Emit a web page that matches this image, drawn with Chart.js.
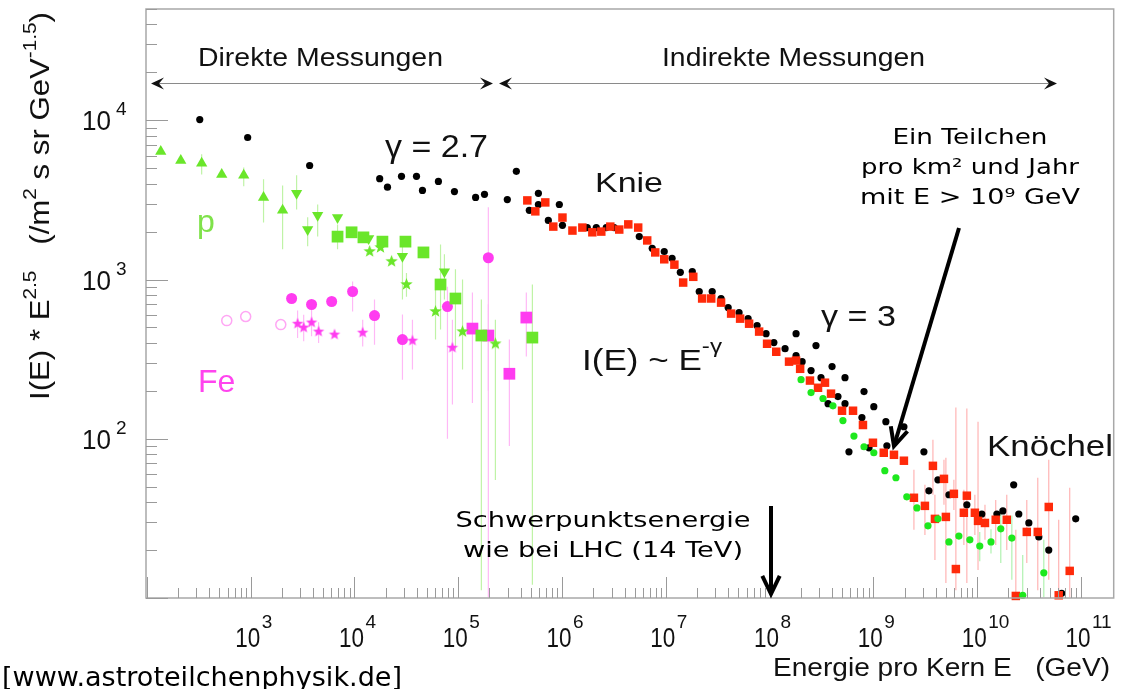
<!DOCTYPE html>
<html><head><meta charset="utf-8">
<script src="https://cdn.jsdelivr.net/npm/chart.js@4/dist/chart.umd.min.js"></script>
<style>html,body{margin:0;padding:0;background:#fff;overflow:hidden}#wrap{width:1122px;height:689px}</style>
</head><body><div id="wrap"><canvas id="c" width="1122" height="689"></canvas></div>
<script>
// ---------------- DATA (energy in GeV, intensity I(E)*E^2.5) ----------------
const xTickExponents = [3,4,5,6,7,8,9,10,11];
const yTickExponents = [2,3,4];
const X_MIN = 98, X_MAX = 2.07e11, Y_MIN = 10, Y_MAX = 5.0e4;

// all-particle spectrum, black dots
const blackDots = [[323,10100],[935,7800],[3700,5200],[17500,4300],[20800,3800],[28400,4450],[39600,4450],[45200,3630],[64400,4130],[91900,3570],[147000,3280],[179000,3430],[297000,3180],[363000,4780],
[592000,3480],[484000,2720],[592000,2960],[738000,2350],[942000,2960],[1.01e6,2190],[1.75e6,2120],[2.14e6,2120],[2.67e6,2120],[3.18e6,2120],[5.55e6,1860],[7.40e6,1570],[9.66e6,1500],[1.15e7,1360],[1.38e7,1110],[1.80e7,1120],[2.10e7,841],[2.80e7,841],[3.41e7,760],[3.99e7,667],[5.08e7,619],[6.21e7,568],[7.58e7,514],[9.25e7,457],[1.10e8,402],[1.41e8,368],[1.80e8,457],[1.80e8,333],[2.06e8,305],[2.51e8,268],[2.80e8,385],[3.13e8,242],[4.00e8,284],[3.66e8,166],[4.56e8,184],[5.33e8,242],[5.33e8,166],[7.76e8,136],[8.13e8,198],[1.01e9,159],[9.08e8,87.7],[1.32e9,128],[1.35e9,90.4],[1.97e9,119],[5.82e8,82.8],[3.07e9,82.8],[4.19e9,55.2],[3.43e9,47.1],[5.35e9,44.5],[7.96e9,38.5],[1.11e10,33.7],[1.55e10,33.7],[1.77e10,35.2],[2.25e10,51.4],[2.52e10,33.7],[3.15e10,29.6],[3.93e10,24.2],[4.90e10,20.0],[6.53e10,10.7],[8.91e10,31.4]];

// all-particle spectrum, red squares
const redSquares = [[463000,3140],[553000,2680],[690000,3050],[824000,2150],[1.01e6,2450],[1.26e6,2030],[1.57e6,2120],[1.96e6,1980],[2.39e6,2000],[2.92e6,2150],[3.56e6,2060],[4.35e6,2220],[5.42e6,2120],[6.62e6,1760],[7.91e6,1480],[9.66e6,1340],[1.21e7,1240],[1.47e7,957],[1.84e7,1040],[2.24e7,760],[2.74e7,760],[3.41e7,716],[4.26e7,611],[5.20e7,568],[6.35e7,528],[7.93e7,471],[9.46e7,395],[1.16e8,352],[1.54e8,305],[1.80e8,310],[1.97e8,275],[2.45e8,232],[2.93e8,209],[3.42e8,225],[3.91e8,192],[4.99e8,150],[6.37e8,150],[7.94e8,122],[9.91e8,94.4],[1.26e9,81.7],[1.58e9,79.3],[1.97e9,72.8],[2.46e9,42.6],[3.14e9,37.9],[3.75e9,67.6],[4.79e9,56.0],[3.92e9,31.4],[5.00e9,32.3],[5.97e9,45.1],[6.24e9,15.2],[7.45e9,34.3],[7.96e9,43.9],[9.51e9,34.3],[1.02e10,30.5],[1.19e10,29.6],[1.51e10,31.0],[1.93e10,31.0],[2.36e10,10.3],[3.01e10,26.0],[3.84e10,26.0],[4.90e10,37.3],[6.11e10,10.4],[7.80e10,14.8]];
const redErr = [[2.46e9,26.8,63.8],[3.14e9,24.9,51.4],[3.75e9,44.5,98.6],[4.79e9,38.5,73.8],[3.92e9,17.3,44.5],[5.00e9,12.4,76.0],[5.97e9,35.7,55.2],[6.24e9,11.2,157],[7.45e9,21.5,47.8],[7.96e9,12.4,155],[9.51e9,24.9,44.5],[1.02e10,15.0,128],[1.19e10,23.2,38.5],[1.51e10,21.5,41.3],[1.93e10,20.0,44.5],[2.36e10,10.1,26.8],[3.01e10,16.6,41.3],[3.84e10,11.2,56.9],[4.90e10,13.0,73.8],[6.11e10,10.1,31.0],[7.80e10,10.1,49.2]];

// all-particle spectrum, green dots (highest energies)
const greenDots = [[2.01e8,235],[2.51e8,195],[3.27e8,179],[4.08e8,161],[5.09e8,130],[6.50e8,104],[8.13e8,89.1],[1.01e9,81.7],[1.29e9,63.0],[1.65e9,56.9],[2.10e9,43.2],[2.63e9,36.8],[3.36e9,28.4],[4.19e9,31.4],[5.35e9,22.5],[6.67e9,24.5],[8.51e9,23.2],[1.06e10,21.2],[1.36e10,22.5],[1.69e10,27.2],[2.16e10,23.8],[2.75e10,10.4],[4.39e10,14.4]];
const greenDotErr = [[1.06e10,17,26],[1.36e10,19,27],[1.69e10,16.6,35.7],[2.16e10,13,33],[2.75e10,10.1,18.6],[4.39e10,10.1,23.2]];

// protons (direct measurements)
const pTriUp = [[136,6380],[212,5600],[337,5370],[526,4570],[857,4510],[1330,3280],[2030,2720]];
const pTriUpErr = [[337,4570,6110],[857,3850,5060],[1330,2280,4260],[2030,1550,3900]];
const pTriDown = [[2770,3480],[3540,2060],[4420,2530],[6870,2450],[13700,1810],[29000,1400],[73600,1120]];
const pTriDownErr = [[2770,2750,4510],[3540,1620,2460],[4420,1860,2960],[29000,748,1660],[73600,748,1440]];
const pSquares = [[6870,1860],[9380,1980],[12200,1840],[18600,1730],[31000,1730],[46200,1480],[67500,931],[94000,760],[167000,445],[518000,432]];
const pSquaresErr = [[6870,1550,2220],[67500,485,1660],[94000,363,1160],[167000,11.2,748],[518000,12.1,931]];
const pStars = [[14000,1500],[17800,1590],[22800,1300],[31700,931],[60400,630],[110000,471],[228000,395]];
const pStarsErr = [[31700,780,1100],[60400,420,865],[110000,272,1000],[228000,55,560]];

// iron (direct measurements)
const feCircles = [[2480,760],[3860,697],[6030,728],[9590,841],[15600,594],[29000,420],[78700,676],[195000,1370]];
const feCirclesErr = [[9590,630,971],[15600,390,748],[29000,235,603],[78700,100,900],[195000,10.1,2840]];
const feOpen = [[588,552],[895,585],[1950,521]];
const feStars = [[2830,528],[3240,499],[3860,537],[4510,471],[6430,451],[12000,464],[36200,413],[87900,373]];
const feStarsErr = [[2830,430,640],[3240,410,600],[3860,440,650],[4510,400,540],[12000,380,560],[36200,272,560],[87900,164,560]];
const feSquares = [[137000,492],[195000,445],[311000,256],[453000,577]];
const feSquaresErr = [[137000,168,828],[195000,200,700],[311000,90,420],[453000,328,828]];

// ---------------- helpers ----------------
const pts = a => a.map(([x,y]) => ({x, y}));
const bars = a => { const o = []; a.forEach(([x,lo,hi]) => { o.push({x, y:lo}, {x, y:hi}, {x, y:null}); }); return o; };
function starCanvas(color, r) {
  const s = Math.ceil(2*r + 2), c = document.createElement('canvas');
  c.width = s; c.height = s;
  const g = c.getContext('2d'); g.fillStyle = color; g.beginPath();
  for (let i = 0; i < 10; i++) {
    const a = -Math.PI/2 + i*Math.PI/5, rr = (i % 2) ? r*0.42 : r;
    g.lineTo(s/2 + rr*Math.cos(a), s/2 + rr*Math.sin(a));
  }
  g.closePath(); g.fill(); return c;
}
const GREEN = '#6ae62a', GREEN_E = '#bff3a6', MAG = '#ff3cf0', MAG_E = '#ffb8f6', RED = '#ff2a0a', RED_E = '#ffb4b4', GDOT = '#1ee81e', GDOT_E = '#b0f2b0';

function errSet(data, color) {
  return {type:'line', data: bars(data), borderColor: color, borderWidth: 1.2, pointRadius: 0, spanGaps: false, order: 10, clip: 4};
}
function mk(data, style, color, r, extra) {
  return Object.assign({type:'scatter', data: pts(data), pointStyle: style, backgroundColor: color, borderColor: color, borderWidth: 0, pointRadius: r, pointHoverRadius: r, order: 1, clip: 10}, extra || {});
}

// ---------------- text helper ----------------
function rich(ctx, parts, x, y, o) {
  const fam = o.family || '"Liberation Sans", Arial, sans-serif';
  const sup = o.supSize || Math.round(o.size*0.65), rise = o.rise || Math.round(o.size*0.45);
  const w = parts.map(p => { ctx.font = (p[1] ? sup : o.size) + 'px ' + fam; return ctx.measureText(p[0]).width; });
  const nat = w.reduce((a,b) => a+b, 0);
  const sx = o.width ? o.width/nat : 1, tot = nat*sx;
  const start = o.align === 'center' ? -tot/2 : (o.align === 'right' ? -tot : 0);
  ctx.save(); ctx.translate(x, y); if (o.rotate) ctx.rotate(o.rotate);
  ctx.translate(start, 0); ctx.scale(sx, 1);
  ctx.fillStyle = o.color || '#111'; ctx.textAlign = 'left'; ctx.textBaseline = 'alphabetic';
  let cx = 0;
  parts.forEach((p, i) => { ctx.font = (p[1] ? sup : o.size) + 'px ' + fam; ctx.fillText(p[0], cx, p[1] ? -rise : 0); cx += w[i]; });
  ctx.restore();
}
function stealth(ctx, tx, ty, dir) { // dir: +1 right, -1 left
  ctx.beginPath();
  ctx.moveTo(tx, ty); ctx.lineTo(tx - dir*13, ty - 6); ctx.lineTo(tx - dir*8, ty); ctx.lineTo(tx - dir*13, ty + 6);
  ctx.closePath(); ctx.fill();
}
function bigArrow(ctx, x0, y0, x1, y1) {
  ctx.save(); ctx.strokeStyle = '#000'; ctx.lineWidth = 4; ctx.lineCap = 'butt';
  ctx.beginPath(); ctx.moveTo(x0, y0); ctx.lineTo(x1, y1); ctx.stroke();
  const a = Math.atan2(y1 - y0, x1 - x0), L = 20, s = 0.45;
  ctx.beginPath();
  ctx.moveTo(x1 - L*Math.cos(a - s), y1 - L*Math.sin(a - s)); ctx.lineTo(x1, y1);
  ctx.lineTo(x1 - L*Math.cos(a + s), y1 - L*Math.sin(a + s));
  ctx.lineJoin = 'miter'; ctx.stroke(); ctx.restore();
}

const COMIC = '"Comic Sans MS", "DejaVu Sans", sans-serif';

const decor = {
  id: 'decor',
  afterDatasetsDraw(chart) {
    const ctx = chart.ctx, a = chart.chartArea, xs = chart.scales.x, ys = chart.scales.y;
    ctx.save();
    // frame
    ctx.strokeStyle = '#a8a8a8'; ctx.lineWidth = 1.5;
    ctx.strokeRect(a.left, a.top, a.right - a.left, a.bottom - a.top);
    // ticks
    ctx.strokeStyle = '#9a9a9a'; ctx.lineWidth = 1;
    for (let e = 1; e <= 4; e++) for (let m = 1; m <= 9; m++) {
      const v = m*Math.pow(10, e); if (v < Y_MIN || v > Y_MAX) continue;
      const py = Math.round(ys.getPixelForValue(v)) + 0.5, len = m === 1 ? 22 : 11;
      ctx.beginPath(); ctx.moveTo(a.left, py); ctx.lineTo(a.left + len, py); ctx.stroke();
    }
    for (let e = 1; e <= 11; e++) for (let m = 1; m <= 9; m++) {
      const v = m*Math.pow(10, e); if (v < X_MIN || v > 1.01e11) continue;
      const px = Math.round(xs.getPixelForValue(v)) + 0.5, len = m === 1 ? 21 : 10;
      ctx.beginPath(); ctx.moveTo(px, a.bottom); ctx.lineTo(px, a.bottom - len); ctx.stroke();
    }
    // tick labels
    ctx.fillStyle = '#111';
    xTickExponents.forEach(n => {
      const px = xs.getPixelForValue(Math.pow(10, n));
      rich(ctx, [['10', 0]], px - 3, 647, {size: 28, align: 'center', width: 25});
      rich(ctx, [[String(n), 0]], px + 11, 628, {size: 19, align: 'left'});
    });
    yTickExponents.forEach(n => {
      const py = ys.getPixelForValue(Math.pow(10, n));
      rich(ctx, [['10', 0]], 111, py + 10, {size: 28, align: 'right', width: 29});
      rich(ctx, [[String(n), 0]], 116, py - 5, {size: 19, align: 'left'});
    });
    // axis titles
    rich(ctx, [['Energie pro Kern E   (GeV)', 0]], 773, 676, {size: 25, width: 337});
    rich(ctx, [['I(E) * E', 0], ['2.5', 1], ['   (/m', 0], ['2', 1], [' s sr GeV', 0], ['-1.5', 1], [')', 0]], 49, 400,
      {size: 27, supSize: 18, rise: 13, width: 388, rotate: -Math.PI/2});
    // region arrows
    ctx.strokeStyle = '#8a8a8a'; ctx.lineWidth = 1.2;
    ctx.beginPath(); ctx.moveTo(152, 83.5); ctx.lineTo(492, 83.5); ctx.moveTo(500, 83.5); ctx.lineTo(1056, 83.5); ctx.stroke();
    ctx.fillStyle = '#111';
    stealth(ctx, 151, 83.5, -1); stealth(ctx, 493, 83.5, 1); stealth(ctx, 499, 83.5, -1); stealth(ctx, 1057, 83.5, 1);
    rich(ctx, [['Direkte Messungen', 0]], 198, 66, {size: 25, width: 245});
    rich(ctx, [['Indirekte Messungen', 0]], 662, 66, {size: 25, width: 263});
    // physics labels
    rich(ctx, [['\u03b3 = 2.7', 0]], 385, 157, {size: 31, width: 103});
    rich(ctx, [['Knie', 0]], 595, 192, {size: 28, width: 68});
    rich(ctx, [['I(E) ~ E', 0], ['-\u03b3', 1]], 582, 370, {size: 29, supSize: 20, rise: 17, width: 140});
    rich(ctx, [['\u03b3 = 3', 0]], 821, 326, {size: 30, width: 75});
    rich(ctx, [['Kn\u00f6chel', 0]], 987, 456, {size: 30, width: 126});
    rich(ctx, [['p', 0]], 197, 232, {size: 32, color: '#7fe24a'});
    rich(ctx, [['Fe', 0]], 198, 392, {size: 32, color: '#ff44ee'});
    // comic annotations
    rich(ctx, [['Ein Teilchen', 0]], 970, 144, {size: 22, family: COMIC, align: 'center', width: 155, color: '#000'});
    rich(ctx, [['pro km\u00b2 und Jahr', 0]], 970, 174, {size: 22, family: COMIC, align: 'center', width: 218, color: '#000'});
    rich(ctx, [['mit E > 10\u2079 GeV', 0]], 970, 204, {size: 22, family: COMIC, align: 'center', width: 220, color: '#000'});
    bigArrow(ctx, 959, 228, 894, 446);
    rich(ctx, [['Schwerpunktsenergie', 0]], 603, 527, {size: 22, family: COMIC, align: 'center', width: 295, color: '#000'});
    rich(ctx, [['wie bei LHC (14 TeV)', 0]], 603, 557, {size: 22, family: COMIC, align: 'center', width: 280, color: '#000'});
    bigArrow(ctx, 771, 506, 771, 594);
    rich(ctx, [['[www.astroteilchenphysik.de]', 0]], 2, 686, {size: 26, family: COMIC, width: 400, color: '#000'});
    ctx.restore();
  }
};

new Chart(document.getElementById('c'), {
  type: 'scatter',
  data: { datasets: [
    errSet(pTriUpErr, GREEN_E), errSet(pTriDownErr, GREEN_E), errSet(pSquaresErr, GREEN_E), errSet(pStarsErr, GREEN_E),
    errSet(feCirclesErr, MAG_E), errSet(feStarsErr, MAG_E), errSet(feSquaresErr, MAG_E),
    errSet(redErr, RED_E), errSet(greenDotErr, GDOT_E),
    mk(pTriUp, 'triangle', GREEN, 6.5),
    mk(pTriDown, 'triangle', GREEN, 6.5, {rotation: 180}),
    mk(pSquares, 'rect', GREEN, 8.3),
    mk(pStars, starCanvas(GREEN, 6.5), GREEN, 6.5),
    mk(feOpen, 'circle', 'rgba(0,0,0,0)', 5, {borderColor: '#ffa6f4', borderWidth: 1.5}),
    mk(feCircles, 'circle', MAG, 5.5),
    mk(feStars, starCanvas(MAG, 6), MAG, 6),
    mk(feSquares, 'rect', MAG, 8.3),
    mk(greenDots, 'circle', GDOT, 3.6),
    mk(redSquares, 'rect', RED, 6),
    mk(blackDots, 'circle', '#000', 3.6)
  ]},
  options: {
    responsive: false, animation: false, devicePixelRatio: 1, events: [],
    layout: { padding: {left: 146, top: 9, right: 6, bottom: 91} },
    scales: {
      x: { type: 'logarithmic', min: X_MIN, max: X_MAX, display: false },
      y: { type: 'logarithmic', min: Y_MIN, max: Y_MAX, display: false }
    },
    plugins: { legend: {display: false}, tooltip: {enabled: false} }
  },
  plugins: [decor]
});
</script>
</body></html>
